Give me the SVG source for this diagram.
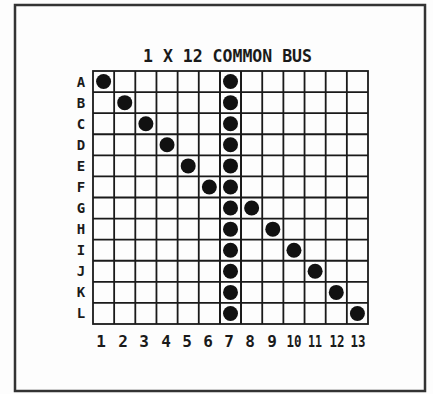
<svg xmlns="http://www.w3.org/2000/svg" width="433" height="394" viewBox="0 0 433 394">
<style>
.t{font-family:"DejaVu Sans Mono","Liberation Mono",monospace;fill:#1a1a1a;text-anchor:middle;font-weight:bold}
.lab{font-size:15px}
.grid{fill:none;stroke:#1a1a1a;stroke-width:1.8}
.dot{fill:#111}
</style>
<defs><circle id="d" r="7.5" class="dot"/></defs>
<rect x="0" y="0" width="433" height="394" fill="#fdfdfd"/>
<rect id="frame" x="15" y="5" width="410" height="386" fill="none" stroke="#333" stroke-width="2.5"/>
<text id="title" class="t" x="227.5" y="62" font-size="17" textLength="169" lengthAdjust="spacingAndGlyphs">1 X 12 COMMON BUS</text>
<g id="connectors">
<rect x="93" y="71" width="275" height="253" class="grid" stroke-width="2.4"/>
<path class="grid" d="M114.15 71V324M135.31 71V324M156.46 71V324M177.62 71V324M198.77 71V324M219.92 71V324M241.08 71V324M262.23 71V324M283.38 71V324M304.54 71V324M325.69 71V324M346.85 71V324M93 92.08H368M93 113.17H368M93 134.25H368M93 155.33H368M93 176.42H368M93 197.5H368M93 218.58H368M93 239.67H368M93 260.75H368M93 281.83H368M93 302.92H368"/>
<path class="grid" stroke-width="2.6" d="M220 71V324M241 71V324"/>
</g>
<g id="rows" class="t" font-size="14">
<text x="81" y="87">A</text><text x="81" y="108">B</text><text x="81" y="129">C</text><text x="81" y="150">D</text><text x="81" y="171">E</text><text x="81" y="192">F</text><text x="81" y="213">G</text><text x="81" y="234">H</text><text x="81" y="255">I</text><text x="81" y="276">J</text><text x="81" y="297">K</text><text x="81" y="318">L</text>
</g>
<g id="cols" class="t" font-size="16">
<text x="101" y="347">1</text><text x="123" y="347">2</text><text x="144" y="347">3</text><text x="166" y="347">4</text><text x="187" y="347">5</text><text x="208" y="347">6</text><text x="229" y="347">7</text><text x="250" y="347">8</text><text x="272" y="347">9</text><text x="294" y="347" textLength="15" lengthAdjust="spacingAndGlyphs">10</text><text x="315" y="347" textLength="14" lengthAdjust="spacingAndGlyphs">11</text><text x="337" y="347" textLength="15" lengthAdjust="spacingAndGlyphs">12</text><text x="358" y="347" textLength="15" lengthAdjust="spacingAndGlyphs">13</text>
</g>
<g id="bus">
<use href="#d" x="230.5" y="81.54"/><use href="#d" x="230.5" y="102.63"/><use href="#d" x="230.5" y="123.71"/><use href="#d" x="230.5" y="144.79"/><use href="#d" x="230.5" y="165.88"/><use href="#d" x="230.5" y="186.96"/><use href="#d" x="230.5" y="208.04"/><use href="#d" x="230.5" y="229.13"/><use href="#d" x="230.5" y="250.21"/><use href="#d" x="230.5" y="271.29"/><use href="#d" x="230.5" y="292.38"/><use href="#d" x="230.5" y="313.46"/>
</g>
<g id="diagonal">
<use href="#d" x="103.58" y="81.54"/><use href="#d" x="124.73" y="102.63"/><use href="#d" x="145.88" y="123.71"/><use href="#d" x="167.04" y="144.79"/><use href="#d" x="188.19" y="165.88"/><use href="#d" x="209.35" y="186.96"/><use href="#d" x="251.65" y="208.04"/><use href="#d" x="272.81" y="229.13"/><use href="#d" x="293.96" y="250.21"/><use href="#d" x="315.12" y="271.29"/><use href="#d" x="336.27" y="292.38"/><use href="#d" x="357.42" y="313.46"/>
</g>
</svg>
